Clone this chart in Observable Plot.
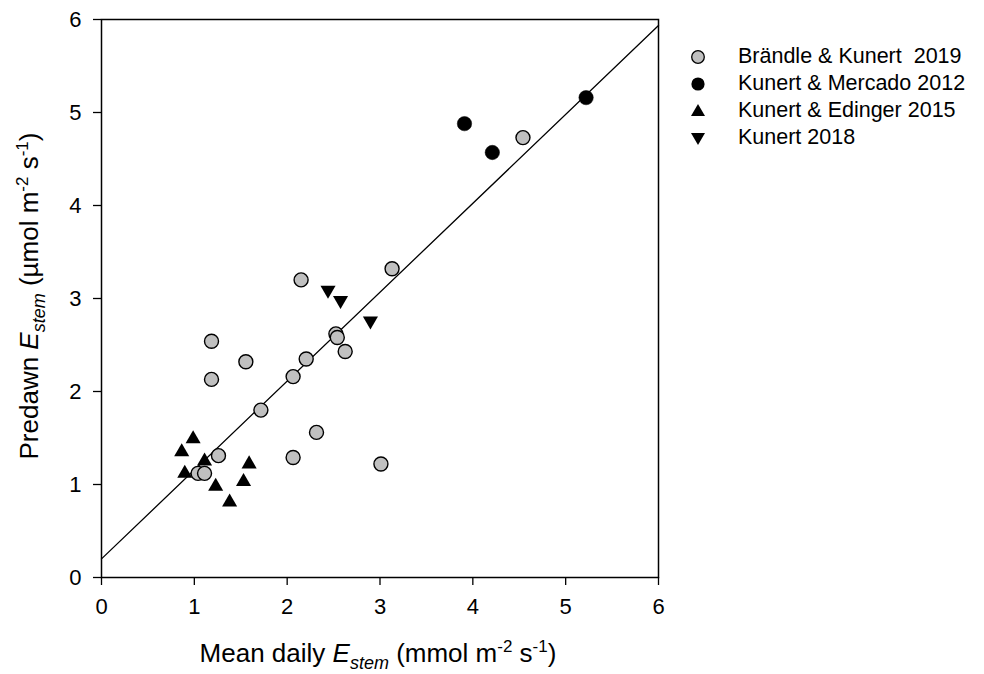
<!DOCTYPE html>
<html>
<head>
<meta charset="utf-8">
<script src="https://cdn.jsdelivr.net/npm/d3@7"></script>
<script src="https://cdn.jsdelivr.net/npm/@observablehq/plot@0.6"></script>
<style>
  html, body { margin: 0; padding: 0; background: #fff; }
  #wrap { position: relative; width: 984px; height: 674px; font-family: "Liberation Sans", Arial, sans-serif; color: #000; }
  #xtitle { position: absolute; left: 0; width: 756px; text-align: center; top: 638px; font-size: 26px; line-height: 30px; white-space: nowrap; }
  #ytitle { position: absolute; left: 29px; top: 296px; font-size: 26px; line-height: 30px; white-space: nowrap; transform: translate(-50%, -50%) rotate(-90deg); }
  sub { font-size: 18px; vertical-align: -7px; line-height: 0; }
  sup { font-size: 17px; vertical-align: 10px; line-height: 0; }
  #legend { position: absolute; left: 686px; top: 43px; font-size: 21.5px; }
  .row { display: flex; align-items: center; height: 27px; }
  .row svg { width: 24px; height: 24px; margin-right: 28px; }
</style>
</head>
<body>
<div id="wrap">
  <div id="chart"></div>
  <div id="ytitle">Predawn <i>E<sub>stem</sub></i> (µmol m<sup>-2</sup> s<sup>-1</sup>)</div>
  <div id="xtitle">Mean daily <i>E<sub>stem</sub></i> (mmol m<sup>-2</sup> s<sup>-1</sup>)</div>
  <div id="legend"></div>
</div>
<script>
// Data
const seriesNames = ["Brändle & Kunert  2019", "Kunert & Mercado 2012", "Kunert & Edinger 2015", "Kunert 2018"];

const brandleX = [4.54, 3.13, 2.15, 1.185, 1.555, 1.185, 2.205, 2.064, 2.525, 2.54, 2.625, 1.717, 2.316, 2.064, 1.26, 1.04, 1.11, 3.01];
const brandleY = [4.73, 3.32, 3.20, 2.54, 2.32, 2.13, 2.35, 2.16, 2.62, 2.58, 2.43, 1.80, 1.56, 1.29, 1.31, 1.12, 1.12, 1.22];

const mercadoX = [3.91, 4.21, 5.22];
const mercadoY = [4.88, 4.57, 5.16];

const edingerX = [0.987, 0.864, 1.11, 0.897, 1.23, 1.59, 1.53, 1.38];
const edingerY = [1.49, 1.35, 1.25, 1.12, 0.98, 1.22, 1.03, 0.81];

const kunert2018X = [2.44, 2.575, 2.897];
const kunert2018Y = [3.09, 2.98, 2.76];

const fitX = [0, 6];
const fitY = [0.2, 5.935];

const xTicks = [0, 1, 2, 3, 4, 5, 6];
const yTicks = [0, 1, 2, 3, 4, 5, 6];

// Build tables
const pts = (xs, ys) => xs.map((x, i) => ({x, y: ys[i]}));
const brandle = pts(brandleX, brandleY);
const mercado = pts(mercadoX, mercadoY);
const edinger = pts(edingerX, edingerY);
const kunert2018 = pts(kunert2018X, kunert2018Y);
const fit = pts(fitX, fitY);

const triangleDown = {
  draw(context, size) {
    const y = -Math.sqrt(size / (Math.sqrt(3) * 3));
    context.moveTo(0, -y * 2);
    context.lineTo(-Math.sqrt(3) * y, y);
    context.lineTo(Math.sqrt(3) * y, y);
    context.closePath();
  }
};

const fmt = d3.format("d");

const chart = Plot.plot({
  width: 984,
  height: 674,
  marginLeft: 101,
  marginRight: 326,
  marginTop: 19,
  marginBottom: 97,
  style: { fontFamily: "Liberation Sans, Arial, sans-serif", fontSize: "22px", color: "#000", background: "#fff" },
  x: { domain: [0, 6], ticks: xTicks, label: null },
  y: { domain: [0, 6], ticks: yTicks, label: null },
  marks: [
    Plot.frame({ stroke: "#000", strokeWidth: 1.5 }),
    Plot.axisX({ ticks: xTicks, tickFormat: fmt, tickSize: 8, tickPadding: 13, label: null, stroke: "#000", strokeWidth: 1.3, fontSize: 22 }),
    Plot.axisY({ ticks: yTicks, tickFormat: fmt, tickSize: 8, tickPadding: 12, label: null, stroke: "#000", strokeWidth: 1.3, fontSize: 22 }),
    Plot.line(fit, { x: "x", y: "y", stroke: "#000", strokeWidth: 1.3 }),
    Plot.dot(brandle, { x: "x", y: "y", r: 7, fill: "#c0c0c0", stroke: "#000", strokeWidth: 1.4 }),
    Plot.dot(mercado, { x: "x", y: "y", r: 7.2, fill: "#000", stroke: "#000", strokeWidth: 0.5 }),
    Plot.dot(edinger, { x: "x", y: "y", r: 5.6, symbol: "triangle", fill: "#000", stroke: "none" }),
    Plot.dot(kunert2018, { x: "x", y: "y", r: 5.6, symbol: triangleDown, fill: "#000", stroke: "none" })
  ]
});
document.getElementById("chart").appendChild(chart);

// Legend
const legendSymbols = [
  '<circle cx="12" cy="12" r="6.3" fill="#c0c0c0" stroke="#000" stroke-width="1.3"/>',
  '<circle cx="12" cy="12" r="6.6" fill="#000"/>',
  '<path d="M12,5 L19,17 L5,17 Z" fill="#000"/>',
  '<path d="M12,19 L19,7 L5,7 Z" fill="#000"/>'
];
const legend = document.getElementById("legend");
seriesNames.forEach((name, i) => {
  const row = document.createElement("div");
  row.className = "row";
  row.innerHTML = `<svg viewBox="0 0 24 24">${legendSymbols[i]}</svg><span style="white-space:pre">${name}</span>`;
  legend.appendChild(row);
});
</script>
</body>
</html>
